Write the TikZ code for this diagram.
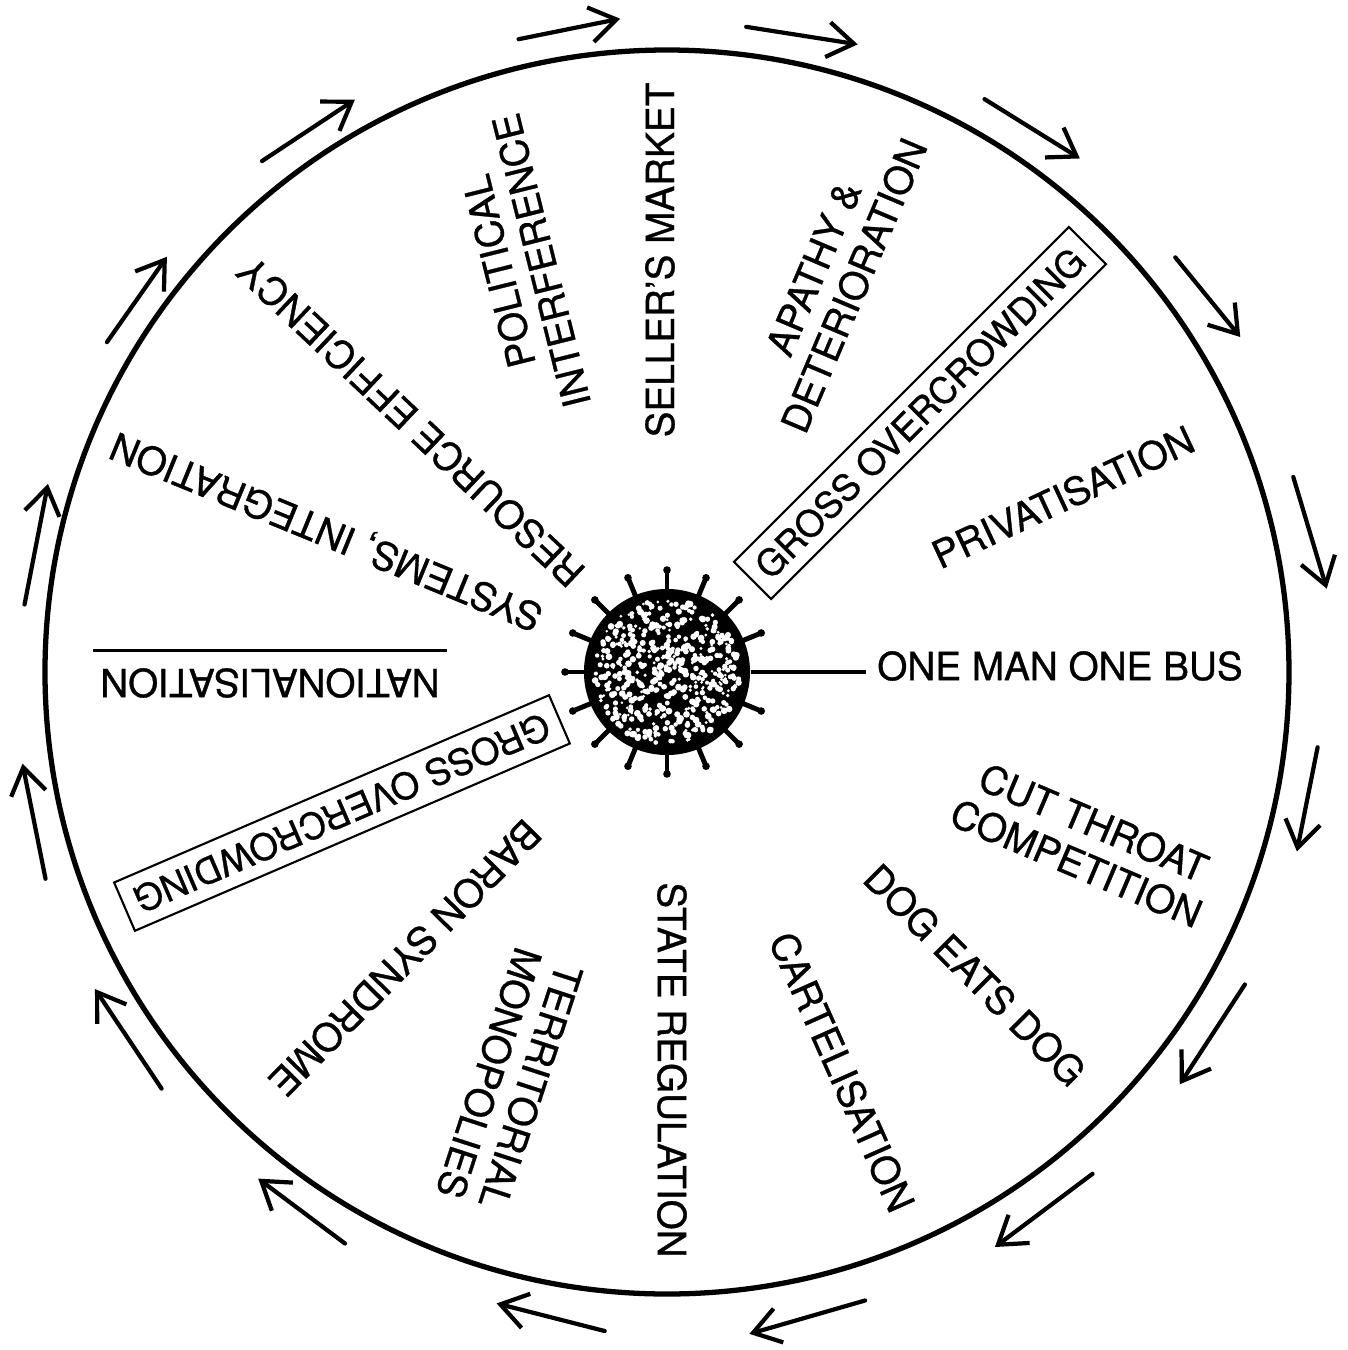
\documentclass[tikz,border=0pt]{standalone}
\usepackage{fontspec}
\setmainfont{TeX Gyre Heros}[FakeBold=0.8]
\usetikzlibrary{positioning}
\usetikzlibrary{calc}
\usetikzlibrary{arrows.meta}

\tikzset{
    factor/.style={font=\fontsize{11}{12.5}\selectfont, inner sep=0pt, align=center},
    boxed/.style={factor, font=\fontsize{10.4}{12}\selectfont, draw, line width=0.6pt, inner xsep=3.5pt, inner ysep=3.5pt},
    flow/.style={-{Straight Barb[length=7.5pt,width=10pt]}, line width=1.2pt, line cap=round},
    spike/.style={line width=1.4pt, line cap=round}
}

\begin{document}
\begin{tikzpicture}[x=0.01cm, y=0.01cm]
    \useasboundingbox (-667,-678) rectangle (681,672);

    % Outer ring
    \draw[line width=1.5pt] (0,0) circle[radius=622];

    % Clockwise arrows round the ring
    \foreach \t/\h/\rt/\rh in {103.2/94.1/650/655, 83/73.1/650/656, 61/51.2/655/659,
        39.2/30.3/656/664, 17.3/7.2/656/665, -6.6/-15.9/655/655, -28.4/-38.8/657/658,
        -49.7/-60.3/658/662, -72.5/-82.9/659/667, -95.4/-105.1/662/654,
        -119.4/-128.9/656/651, -140.5/-151/655/654, -161.6/-171.9/655/651,
        174/163.1/646/647, 149.5/140.3/650/650, 128.4/118.6/652/652} {
        \draw[flow] (\t:\rt) -- (\h:\rh);
    }

    % Hub
    \node[circle, fill=black, minimum size=1.66cm, inner sep=0pt] (hub) at (0,0) {};
    \pgfmathsetseed{42}
    \foreach \k in {1,...,520} {
        \pgfmathsetmacro{\ang}{360*rnd}
        \pgfmathsetmacro{\rad}{73*sqrt(rnd)}
        \pgfmathsetmacro{\sz}{1.4+2*rnd}
        \fill[white] (\ang:\rad) circle[radius=\sz];
    }
    \foreach \a in {22.5,45,...,337.5} {
        \draw[spike] (\a:80) -- (\a:102);
        \fill (\a:102) circle[radius=3.8];
    }

    % Factors round the hub
    \node[factor] (omob) at (393,6) {ONE MAN ONE BUS};
    \draw[line width=1.2pt, shorten >=3pt] (hub.east) -- (hub.east -| omob.west);

    \node[factor, rotate=90] (seller) at (-7,412) {SELLER'S MARKET};
    \node[factor, rotate=104] (political) at (-147,406) {POLITICAL\\INTERFERENCE};
    \node[factor, rotate=67] (apathy) at (167,395) {APATHY \&\\DETERIORATION};
    \node[boxed, rotate=45] (grossA) at (253,259) {GROSS OVERCROWDING};
    \node[factor, rotate=25] (privat) at (396,175) {PRIVATISATION};
    \node[factor, rotate=-23] (cutthroat) at (418,-171) {CUT THROAT\\COMPETITION};
    \node[factor, rotate=-45] (dogeats) at (308,-303) {DOG EATS DOG};
    \node[factor, rotate=-66] (cartel) at (175,-400) {CARTELISATION};
    \node[factor, rotate=-90] (statereg) at (5,-398) {STATE REGULATION};
    \node[factor, rotate=-108] (territ) at (-157,-408) {TERRITORIAL\\MONOPOLIES};
    \node[factor, rotate=-134.5] (baron) at (-262,-286) {BARON SYNDROME};
    \node[boxed, rotate=-156.7] (grossB) at (-325,-141) {GROSS OVERCROWDING};
    \node[factor, rotate=180] (national) at (-397,-11) {NATIONALISATION};
    \draw[line width=0.9pt, shorten <=-2pt, shorten >=-2pt]
        ([yshift=0.17cm]national.south west) -- ([yshift=0.17cm]national.south east);
    \node[factor, rotate=157.7] (systems) at (-340,142) {SYSTEMS, INTEGRATION};
    \node[factor, rotate=136.6] (resource) at (-256,250) {RESOURCE EFFICIENCY};
\end{tikzpicture}
\end{document}
